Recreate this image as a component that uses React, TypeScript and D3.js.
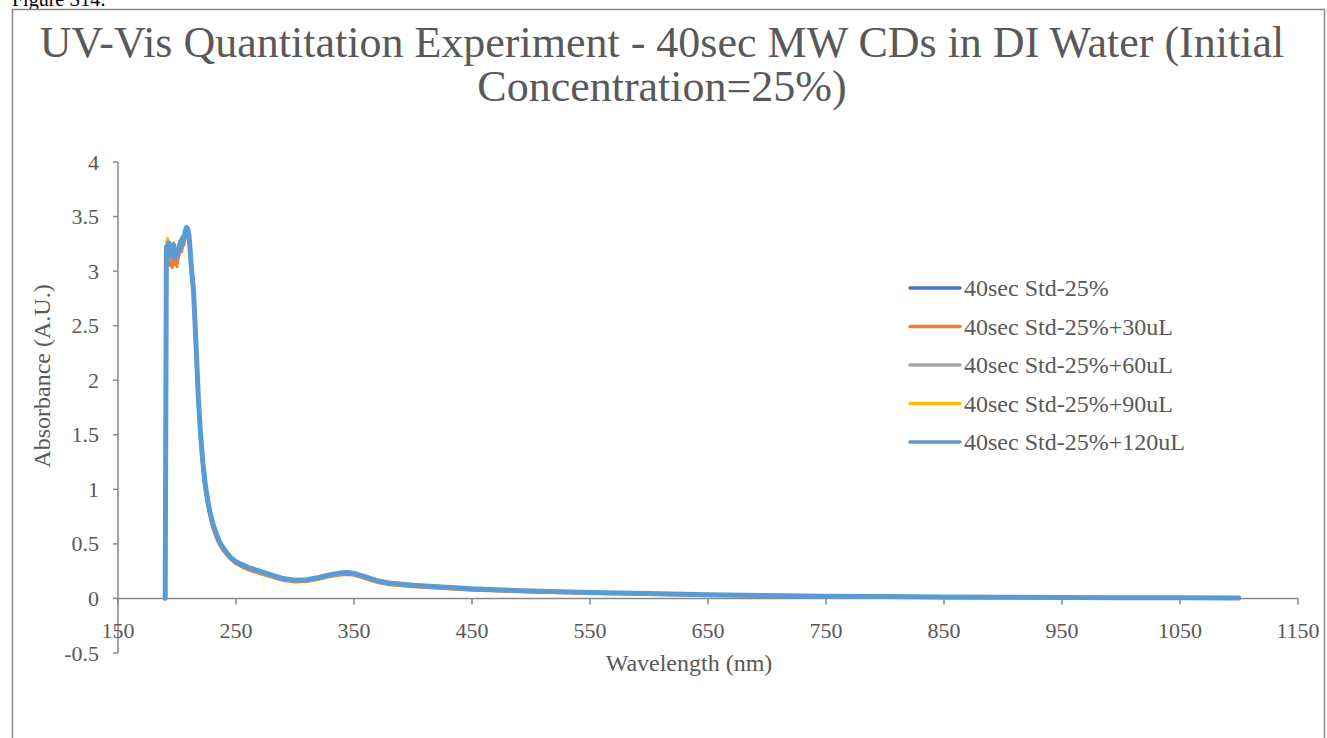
import React from "react";
import * as d3 from "d3";

// Wavelength grid (nm) shared by every spectrum
const wavelengths = [190,191,192,193,194,195,196,197,198,199,200,201,202,203,204,205,206,207,208,209,210,211,212,214,216,218,220,222,224,226,228,230,233,236,240,245,250,255,260,270,280,290,300,310,320,330,340,345,350,360,370,380,400,425,450,500,550,600,650,700,750,800,850,900,950,1000,1050,1100];

const std25 = [0,3.18,3.15,3.22,3.1,3.2,3.16,3.21,3.1,3.18,3.14,3.19,3.2,3.25,3.22,3.3,3.28,3.35,3.38,3.38,3.33,3.2,3.03,2.78,2.3,1.8,1.46,1.2,1.01,0.87,0.77,0.68,0.58,0.505,0.44,0.375,0.33,0.3,0.275,0.24,0.207,0.175,0.16,0.165,0.185,0.21,0.228,0.23,0.222,0.19,0.155,0.135,0.116,0.098,0.083,0.064,0.051,0.041,0.032,0.024,0.018,0.014,0.011,0.009,0.007,0.005,0.004,0.003];
const std25p30 = [0,3.15,3.2,3.12,3.05,3.18,3.03,3.15,3.06,3.1,3.04,3.12,3.15,3.2,3.18,3.25,3.24,3.32,3.36,3.37,3.3,3.17,3.0,2.74,2.26,1.76,1.42,1.17,0.98,0.85,0.75,0.66,0.56,0.49,0.425,0.362,0.318,0.288,0.263,0.228,0.196,0.165,0.15,0.155,0.175,0.2,0.218,0.22,0.212,0.18,0.146,0.126,0.108,0.09,0.076,0.058,0.046,0.036,0.027,0.02,0.014,0.01,0.007,0.005,0.003,0.001,0.0,-0.001];
const std25p60 = [0,3.2,3.18,3.24,3.13,3.22,3.15,3.26,3.14,3.21,3.17,3.24,3.22,3.29,3.26,3.32,3.31,3.36,3.39,3.39,3.35,3.23,3.07,2.8,2.33,1.83,1.48,1.22,1.02,0.88,0.78,0.69,0.59,0.51,0.445,0.38,0.335,0.303,0.278,0.243,0.21,0.177,0.162,0.167,0.187,0.212,0.23,0.232,0.224,0.192,0.157,0.137,0.118,0.1,0.085,0.065,0.052,0.042,0.033,0.025,0.019,0.015,0.012,0.009,0.007,0.006,0.005,0.004];
const std25p90 = [0,3.24,3.3,3.16,3.2,3.12,3.22,3.17,3.25,3.13,3.19,3.16,3.24,3.21,3.3,3.27,3.33,3.32,3.37,3.38,3.32,3.21,3.05,2.79,2.32,1.82,1.47,1.21,1.015,0.875,0.775,0.685,0.585,0.508,0.442,0.378,0.332,0.301,0.276,0.241,0.208,0.176,0.161,0.166,0.186,0.211,0.229,0.231,0.223,0.191,0.156,0.136,0.117,0.099,0.084,0.064,0.051,0.041,0.032,0.024,0.018,0.013,0.01,0.007,0.005,0.003,0.002,0.001];
const std25p120 = [0,3.22,3.12,3.26,3.14,3.23,3.13,3.24,3.12,3.2,3.15,3.2,3.18,3.27,3.24,3.31,3.3,3.37,3.4,3.39,3.34,3.22,3.06,2.82,2.36,1.86,1.5,1.24,1.04,0.9,0.79,0.7,0.6,0.52,0.45,0.38,0.335,0.31,0.285,0.25,0.215,0.182,0.168,0.172,0.192,0.218,0.236,0.238,0.23,0.198,0.162,0.142,0.122,0.104,0.088,0.068,0.055,0.045,0.035,0.027,0.021,0.017,0.014,0.011,0.009,0.007,0.006,0.005];

const seriesNames = ["40sec Std-25%", "40sec Std-25%+30uL", "40sec Std-25%+60uL", "40sec Std-25%+90uL", "40sec Std-25%+120uL"];
const seriesValues = [std25, std25p30, std25p60, std25p90, std25p120];
const seriesColors = ["#4472C4", "#ED7D31", "#A5A5A5", "#FFC000", "#5B9BD5"];
const seriesWidths = [3, 3, 3, 3, 5];

const xTicks = [150, 250, 350, 450, 550, 650, 750, 850, 950, 1050, 1150];
const yTicks = [-0.5, 0, 0.5, 1, 1.5, 2, 2.5, 3, 3.5, 4];

const FONT = "'Liberation Serif', 'Times New Roman', serif";
const TEXT = "#595959";
const AXIS = "#898989";

export default function App() {
  const W = 1327, H = 738;
  const plot = { left: 118, right: 1298, top: 162, bottom: 653 };
  const x = d3.scaleLinear().domain([150, 1150]).range([plot.left, plot.right]);
  const y = d3.scaleLinear().domain([-0.5, 4]).range([plot.bottom, plot.top]);
  const line = d3.line<number>()
    .x((_, i) => x(wavelengths[i]))
    .y((v) => y(v));
  const y0 = y(0);

  return (
    <svg width={W} height={H} style={{ position: "absolute", left: 0, top: 0, background: "#fff" }}>
      <text x={12} y={6} fontFamily={FONT} fontSize={20} fill="#000">Figure S14:</text>
      <rect x={12.5} y={9.5} width={1312} height={740} fill="#fff" stroke="#888" strokeWidth={1.5} />

      <text x={662} y={57} textAnchor="middle" fontFamily={FONT} fontSize={44} fill={TEXT}>
        UV-Vis Quantitation Experiment - 40sec MW CDs in DI Water (Initial
      </text>
      <text x={662} y={101} textAnchor="middle" fontFamily={FONT} fontSize={44} fill={TEXT}>
        Concentration=25%)
      </text>

      {/* y axis */}
      <line x1={plot.left} x2={plot.left} y1={plot.top} y2={plot.bottom} stroke={AXIS} strokeWidth={1.5} />
      {yTicks.map((t) => (
        <g key={t}>
          <line x1={plot.left - 5} x2={plot.left} y1={y(t)} y2={y(t)} stroke={AXIS} strokeWidth={1.5} />
          <text x={99} y={y(t) + 7.5} textAnchor="end" fontFamily={FONT} fontSize={22} fill={TEXT}>{t}</text>
        </g>
      ))}

      {/* x axis crossing at zero */}
      <line x1={plot.left} x2={plot.right} y1={y0} y2={y0} stroke={AXIS} strokeWidth={1.5} />
      {xTicks.map((t) => (
        <g key={t}>
          <line x1={x(t)} x2={x(t)} y1={y0} y2={y0 + 6} stroke={AXIS} strokeWidth={1.5} />
          <text x={x(t)} y={y0 + 40} textAnchor="middle" fontFamily={FONT} fontSize={22} fill={TEXT}>{t}</text>
        </g>
      ))}

      {/* spectra */}
      {seriesValues.map((vals, i) => (
        <path key={i} d={line(vals) || ""} fill="none" stroke={seriesColors[i]} strokeWidth={seriesWidths[i]} strokeLinejoin="round" strokeLinecap="round" />
      ))}

      {/* axis titles */}
      <text transform={`translate(50, 376) rotate(-90)`} textAnchor="middle" fontFamily={FONT} fontSize={24} fill={TEXT}>Absorbance (A.U.)</text>
      <text x={689} y={671} textAnchor="middle" fontFamily={FONT} fontSize={24} fill={TEXT}>Wavelength (nm)</text>

      {/* legend */}
      {seriesNames.map((name, i) => {
        const ly = 288 + i * 38.5;
        return (
          <g key={name}>
            <line x1={910} x2={960} y1={ly} y2={ly} stroke={seriesColors[i]} strokeWidth={3.5} strokeLinecap="round" />
            <text x={964} y={ly + 8} fontFamily={FONT} fontSize={24} fill={TEXT}>{name}</text>
          </g>
        );
      })}
    </svg>
  );
}
